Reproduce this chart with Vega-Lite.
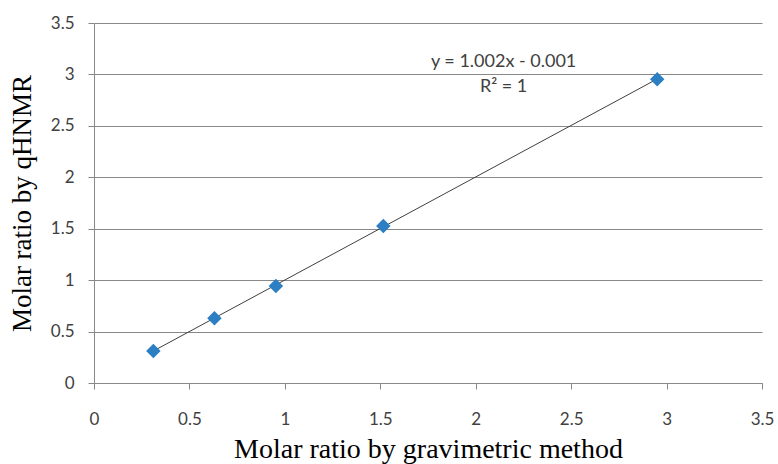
{
  "$schema": "https://vega.github.io/schema/vega-lite/v6.json",
  "autosize": "none",
  "width": 668,
  "height": 360,
  "padding": {"left": 94, "top": 23, "right": 16, "bottom": 81},
  "background": "white",
  "config": {
    "view": {"stroke": null},
    "axis": {
      "labelFont": "Lato",
      "labelFontSize": 17,
      "labelColor": "#404040",
      "titleFont": "Liberation Serif",
      "titleFontSize": 27,
      "titleFontWeight": "normal",
      "titleColor": "#000000",
      "domainColor": "#888888",
      "tickColor": "#888888",
      "gridColor": "#888888",
      "tickSize": 6,
      "format": "~g"
    }
  },
  "datasets": {
    "points": [
      {"gravimetric": 0.311, "qhnmr": 0.311},
      {"gravimetric": 0.631, "qhnmr": 0.629},
      {"gravimetric": 0.953, "qhnmr": 0.943},
      {"gravimetric": 1.516, "qhnmr": 1.526},
      {"gravimetric": 2.951, "qhnmr": 2.953}
    ],
    "trend": [
      {"gravimetric": 0.311, "qhnmr": 0.311},
      {"gravimetric": 2.951, "qhnmr": 2.956}
    ],
    "labels": [
      {"gravimetric": 2.146, "qhnmr": 3.12, "text": "y = 1.002x - 0.001"},
      {"gravimetric": 2.146, "qhnmr": 2.876, "text": "R² = 1"}
    ]
  },
  "encoding": {
    "x": {
      "field": "gravimetric",
      "type": "quantitative",
      "scale": {"domain": [0, 3.5], "nice": false},
      "axis": {
        "title": "Molar ratio by gravimetric method",
        "titleFontSize": 28,
        "values": [0, 0.5, 1, 1.5, 2, 2.5, 3, 3.5],
        "grid": false,
        "labelPadding": 22,
        "titlePadding": 8,
        "labelFlush": false
      }
    },
    "y": {
      "field": "qhnmr",
      "type": "quantitative",
      "scale": {"domain": [0, 3.5], "nice": false},
      "axis": {
        "title": "Molar ratio by qHNMR",
        "values": [0, 0.5, 1, 1.5, 2, 2.5, 3, 3.5],
        "grid": true,
        "domain": true,
        "labelPadding": 14,
        "titlePadding": 14,
        "labelFlush": false
      }
    }
  },
  "layer": [
    {
      "data": {"name": "trend"},
      "mark": {"type": "line", "color": "#404040", "strokeWidth": 1}
    },
    {
      "data": {"name": "points"},
      "mark": {"type": "point", "shape": "diamond", "filled": true, "size": 210, "color": "#2C7FC3", "opacity": 1}
    },
    {
      "data": {"name": "labels"},
      "mark": {"type": "text", "font": "Lato", "fontSize": 18, "color": "#404040", "align": "center", "baseline": "middle"},
      "encoding": {"text": {"field": "text"}}
    }
  ]
}
